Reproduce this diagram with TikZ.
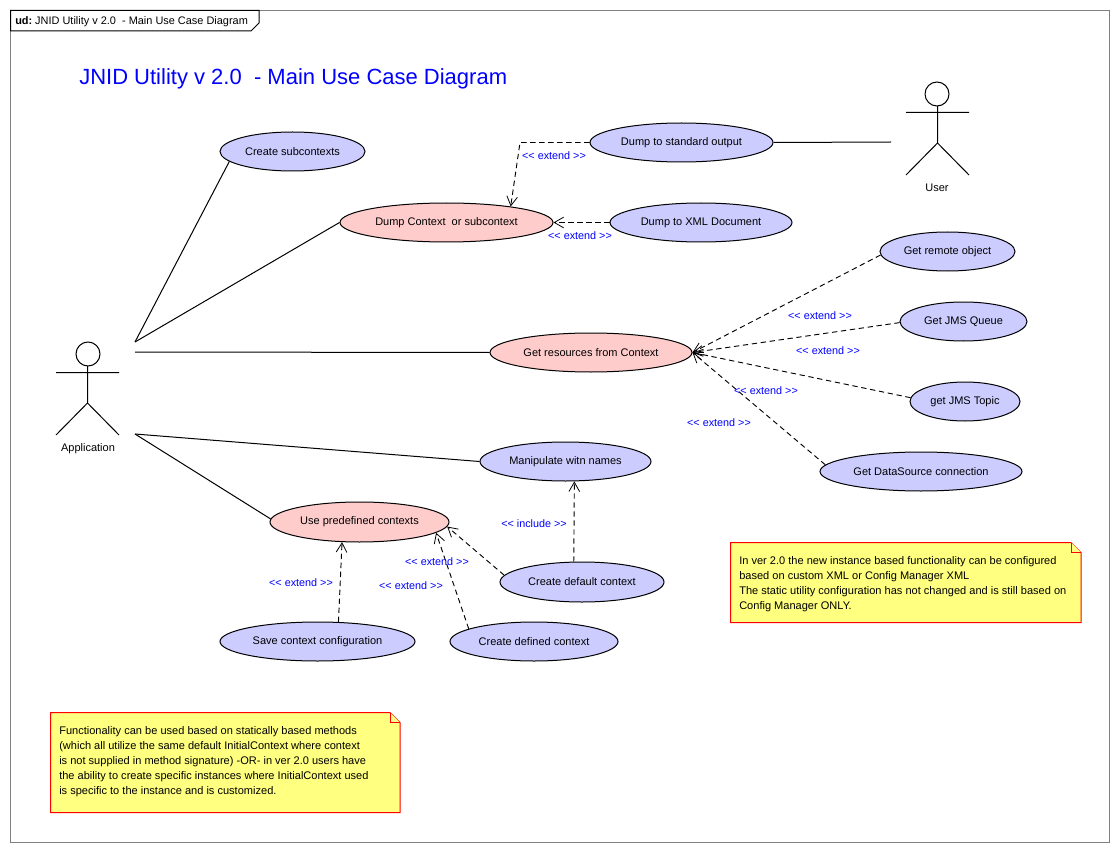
\documentclass[tikz,border=0pt]{standalone}
\usepackage{fontspec}
\setmainfont{Liberation Sans}
\usetikzlibrary{shapes.geometric,arrows.meta}
\definecolor{ucblue}{RGB}{204,204,255}
\definecolor{ucpink}{RGB}{255,204,204}
\definecolor{noteyel}{RGB}{255,255,128}
\definecolor{framegray}{RGB}{128,128,128}
\tikzset{
 uc/.style n args={2}{ellipse,draw=black,line width=0.75pt,inner sep=0pt,minimum width=#1*0.75pt,minimum height=#2*0.75pt,font=\fontsize{8.25}{10}\selectfont},
 ucb/.style 2 args={uc={#1}{#2},fill=ucblue},
 ucp/.style 2 args={uc={#1}{#2},fill=ucpink},
 stereo/.style={text=blue,font=\fontsize{8.1}{10}\selectfont,inner sep=0pt},
 lbl/.style={font=\fontsize{8.25}{10}\selectfont,inner sep=0pt},
 assoc/.style={draw=black,line width=0.75pt},
 ext/.style={draw=black,line width=0.7pt,dash pattern=on 4pt off 2.75pt,-{Straight Barb[length=7pt,width=8pt,line width=0.6pt,sep=0pt]}},
 stick/.style={draw=black,line width=0.75pt},
 notebox/.style={draw=red,fill=noteyel,line width=0.75pt},
 notetxt/.style={align=left,anchor=north west,inner sep=0pt,font=\fontsize{8.28}{11.25}\selectfont},
}
\begin{document}
\begin{tikzpicture}[x=0.75pt,y=-0.75pt]
\useasboundingbox (0,0) rectangle (1120,852);
\fill[white] (0,0) rectangle (1120,852);
% frame
\draw[draw=framegray,line width=0.75pt] (10.5,10.5) rectangle (1109.5,842.5);
\draw[draw=black,fill=white,line width=0.75pt] (10.5,10.5) -- (259,10.5) -- (259,23) -- (251,31) -- (10.5,31) -- cycle;
\node[lbl,anchor=west,font=\fontsize{8.2}{10}\selectfont] (frametitle) at (15,21.5) {\textbf{ud:}\hspace{-0.8pt} JNID Utility v 2.0 \ - Main Use Case Diagram};
\node[anchor=west,inner sep=0pt,text=blue,font=\fontsize{16.5}{20}\selectfont] (maintitle) at (79,78.5) {JNID Utility v 2.0 \ - Main Use Case Diagram};
% actors
\draw[stick] (88,354) circle (12);
\draw[stick] (56,372.5) -- (119,372.5) (87.5,366) -- (87.5,403) (56,435) -- (87.5,403) -- (119,435);
\node[lbl] (application) at (88,448.5) {Application};
\draw[stick] (937,94) circle (12);
\draw[stick] (906,112.5) -- (969,112.5) (937.5,106) -- (937.5,143) (906,175) -- (937.5,143) -- (969,175);
\node[lbl] (user) at (937,188) {User};
\coordinate (appA) at (135,342);
\coordinate (appB) at (135,352);
\coordinate (appC) at (135,434);
\coordinate (userP) at (891,142);
% use cases
\node[ucb={145}{39}] (sub) at (292.5,151.5) {Create subcontexts};
\node[ucp={213}{39}] (dump) at (446.5,222.5) {Dump Context \ or subcontext};
\node[ucb={183}{39}] (std) at (681.5,142.5) {Dump to standard output};
\node[ucb={182}{39}] (xml) at (701,222.5) {Dump to XML Document};
\node[ucb={135}{39}] (remote) at (947.5,251.5) {Get remote object};
\node[ucb={127}{39}] (queue) at (963.5,321.5) {Get JMS Queue};
\node[ucb={110}{39}] (topic) at (965,401.5) {get JMS Topic};
\node[ucb={202}{39}] (ds) at (921,471.5) {Get DataSource connection};
\node[ucp={202}{39}] (res) at (591,352.5) {Get resources from Context};
\node[ucb={171}{39}] (manip) at (565.5,461.5) {Manipulate witn names};
\node[ucp={179}{40}] (pre) at (359.5,522) {Use predefined contexts};
\node[ucb={164}{40}] (def) at (582,582) {Create default context};
\node[ucb={195}{39}] (save) at (317.5,641.5) {Save context configuration};
\node[ucb={168}{39}] (dfd) at (534,641.5) {Create defined context};
% associations
\draw[assoc] (appA) -- (sub.189.4);
\draw[assoc] (appA) -- (dump.180.8);
\draw[assoc] (appB) -- (res.west);
\draw[assoc] (appC) -- (manip.west);
\draw[assoc] (appC) -- (pre.178);
\draw[assoc] (std.east) -- (userP);
% extends
\coordinate (bend) at (520,142.5);
\draw[ext] (std.west) -- (bend) -- (dump.14);
\draw[ext] (xml.west) -- (dump.east);
\draw[ext] (remote.183.5) -- (res.east);
\draw[ext] (queue.181) -- (res.east);
\draw[ext] (topic.176) -- (res.east);
\draw[ext] (ds.176) -- (res.east);
\draw[ext] (def.112) -- (manip.-66.5);
\draw[ext] (def.175) -- (pre.-3);
\draw[ext] (dfd.169) -- (pre.-8.5);
\draw[ext] (save.43) -- (pre.-131.3);
% labels
\node[stereo] (l1) at (554,156) {<{}< extend >{}>};
\node[stereo] (l2) at (580,236) {<{}< extend >{}>};
\node[stereo] (l3) at (820,316) {<{}< extend >{}>};
\node[stereo] (l4) at (828,351) {<{}< extend >{}>};
\node[stereo] (l5) at (766,391) {<{}< extend >{}>};
\node[stereo] (l6) at (719,423) {<{}< extend >{}>};
\node[stereo] (l7) at (534,524) {<{}< include >{}>};
\node[stereo] (l8) at (301,583) {<{}< extend >{}>};
\node[stereo] (l9) at (437,562) {<{}< extend >{}>};
\node[stereo] (l10) at (411,586) {<{}< extend >{}>};
% notes
\draw[notebox] (730.5,542.5) -- (1071,542.5) -- (1081,552.5) -- (1081,622.5) -- (730.5,622.5) -- cycle;
\draw[notebox] (1071,542.5) -- (1071,552.5) -- (1081,552.5);
\node[notetxt] (n1) at (739,556) {In ver 2.0 the new instance based functionality can be configured\\based on custom XML or Config Manager XML\\The static utility configuration has not changed and is still based on\\Config Manager ONLY.};
\draw[notebox] (50.5,712.5) -- (390,712.5) -- (400,722.5) -- (400,812.5) -- (50.5,812.5) -- cycle;
\draw[notebox] (390,712.5) -- (390,722.5) -- (400,722.5);
\node[notetxt] (n2) at (59,726) {Functionality can be used based on statically based methods\\(which all utilize the same default InitialContext where context\\is not supplied in method signature) -OR- in ver 2.0 users have\\the ability to create specific instances where InitialContext used\\is specific to the instance and is customized.};
\end{tikzpicture}
\end{document}
